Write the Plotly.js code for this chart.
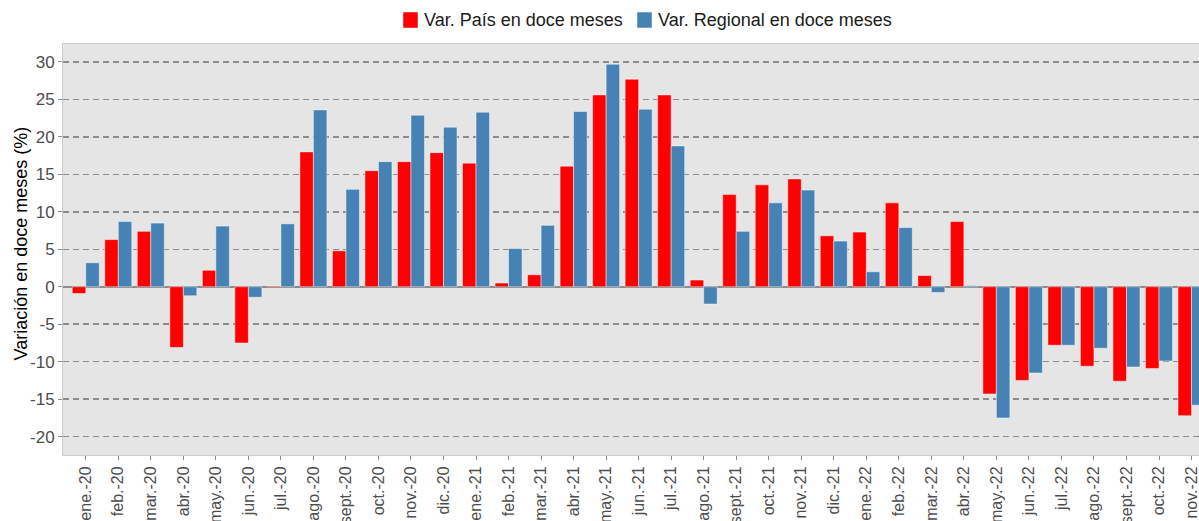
<!DOCTYPE html>
<html>
<head>
<meta charset="utf-8">
<script src="https://cdn.plot.ly/plotly-3.0.1.min.js"></script>
<style>html,body{margin:0;padding:0;background:#fff;}#chart{width:1199px;height:521px;}</style>
</head>
<body>
<div id="chart"></div>
<script>
const categories = ["ene.-20","feb.-20","mar.-20","abr.-20","may.-20","jun.-20","jul.-20","ago.-20","sept.-20","oct.-20","nov.-20","dic.-20",
  "ene.-21","feb.-21","mar.-21","abr.-21","may.-21","jun.-21","jul.-21","ago.-21","sept.-21","oct.-21","nov.-21","dic.-21",
  "ene.-22","feb.-22","mar.-22","abr.-22","may.-22","jun.-22","jul.-22","ago.-22","sept.-22","oct.-22","nov.-22"];
const varPais = [-0.9, 6.3, 7.4, -8.1, 2.2, -7.5, 0.1, 18.0, 4.8, 15.5, 16.7, 17.9,
  16.5, 0.5, 1.6, 16.1, 25.6, 27.7, 25.6, 0.9, 12.3, 13.6, 14.4, 6.8,
  7.3, 11.2, 1.5, 8.7, -14.3, -12.5, -7.8, -10.6, -12.6, -10.9, -17.2];
const varRegional = [3.2, 8.7, 8.5, -1.2, 8.1, -1.4, 8.4, 23.6, 13.0, 16.7, 22.9, 21.3,
  23.3, 5.1, 8.2, 23.4, 29.7, 23.7, 18.8, -2.3, 7.4, 11.2, 12.9, 6.1,
  2.0, 7.9, -0.75, 0.15, -17.5, -11.5, -7.8, -8.2, -10.7, -9.9, -15.8];
const yTicks = [-20, -15, -10, -5, 0, 5, 10, 15, 20, 25, 30];
const seriesNames = ['Var. País en doce meses', 'Var. Regional en doce meses'];
const seriesColors = ['#ff0000', '#4682b4'];
const yTitle = 'Variación en doce meses (%)';

// plot geometry in pixels (used to place the hand-made legend and title)
const W = 1199, H = 521, L = 63, T = 44, B = 66;
const PW = W - L, PH = H - T - B;
const px = x => (x - L) / PW;
const py = y => (H - B - y) / PH;

const traces = [
  {type: 'bar', name: seriesNames[0], x: categories, y: varPais, showlegend: false,
   marker: {color: seriesColors[0], line: {color: 'rgba(255,255,255,0.45)', width: 1}}},
  {type: 'bar', name: seriesNames[1], x: categories, y: varRegional, showlegend: false,
   marker: {color: seriesColors[1], line: {color: 'rgba(255,255,255,0.45)', width: 1}}}
];

// legend: swatches + labels
const legendItems = [
  {sx: 403, tx: 422, color: seriesColors[0], text: seriesNames[0]},
  {sx: 637, tx: 656, color: seriesColors[1], text: seriesNames[1]}
];
const shapes = legendItems.map(it => ({
  type: 'rect', xref: 'paper', yref: 'paper',
  x0: px(it.sx), x1: px(it.sx + 15), y0: py(28), y1: py(12),
  fillcolor: it.color, line: {color: 'rgba(255,255,255,0.5)', width: 1}
}));
const annotations = legendItems.map(it => ({
  xref: 'paper', yref: 'paper', x: px(it.tx), y: py(20), xanchor: 'left', yanchor: 'middle',
  text: it.text, showarrow: false, font: {size: 18, color: '#1a1a1a'}
}));
annotations.push({
  xref: 'paper', yref: 'paper', x: px(20), y: py(243.5), xanchor: 'center', yanchor: 'middle',
  text: yTitle, textangle: -90, showarrow: false, font: {size: 18, color: '#000000'}
});

const layout = {
  width: W, height: H,
  margin: {l: L, r: 0, t: T, b: B, pad: 0},
  paper_bgcolor: '#ffffff',
  plot_bgcolor: '#e5e5e5',
  barmode: 'group',
  bargap: 0.17,
  bargroupgap: 0,
  font: {family: 'Liberation Sans, Arial, sans-serif', size: 17, color: '#4d4d4d'},
  showlegend: false,
  shapes: shapes,
  annotations: annotations,
  xaxis: {
    type: 'category', range: [-0.70, 34.23], automargin: false,
    tickangle: -90, ticks: 'outside', ticklen: 4, tickcolor: '#8c8c8c', tickwidth: 1,
    tickfont: {size: 16, color: '#4d4d4d'},
    showline: true, linecolor: '#cccccc', linewidth: 1, mirror: true,
    showgrid: false, zeroline: false
  },
  yaxis: {
    range: [-22.45, 32.4], automargin: false,
    tickvals: yTicks, ticktext: yTicks.map(String),
    ticks: 'outside', ticklen: 4, tickcolor: '#8c8c8c', tickwidth: 1,
    tickfont: {size: 17, color: '#4d4d4d'},
    showline: true, linecolor: '#cccccc', linewidth: 1, mirror: true,
    showgrid: true, gridcolor: '#8c8c8c', gridwidth: 1.5, griddash: '6px,4px',
    zeroline: true, zerolinecolor: '#8c8c8c', zerolinewidth: 2
  }
};

Plotly.newPlot('chart', traces, layout, {displayModeBar: false, staticPlot: true});
</script>
</body>
</html>
